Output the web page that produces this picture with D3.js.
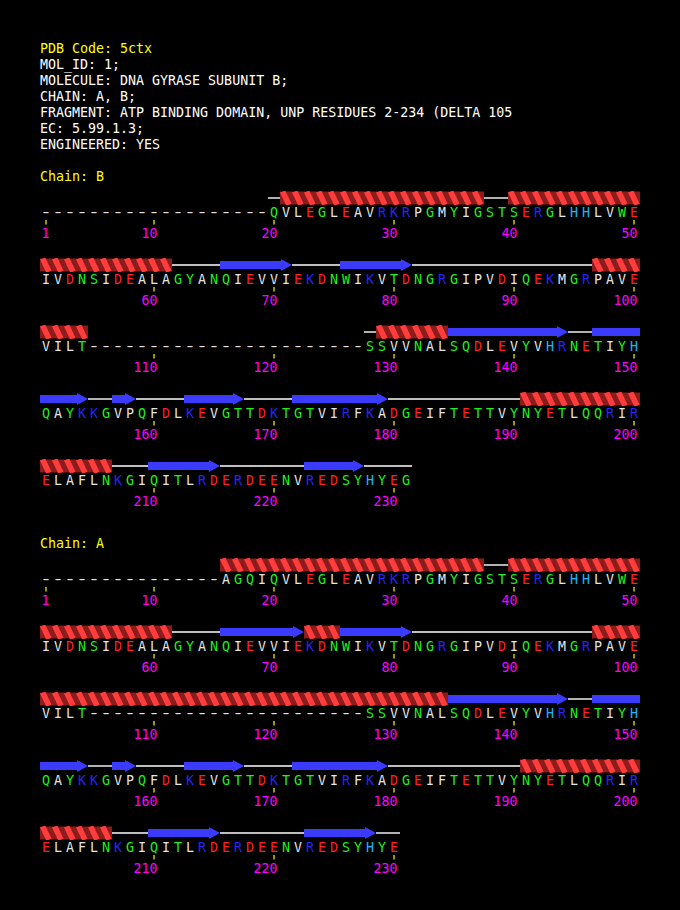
<!DOCTYPE html>
<html><head><meta charset="utf-8">
<script src="https://cdn.jsdelivr.net/npm/d3@7"></script>
<style>html,body{margin:0;padding:0;background:#000;} svg{display:block;}</style>
</head><body>
<script>
// ---------------- DATA ----------------
const headerLines = [
  "PDB Code: 5ctx",
  "MOL_ID: 1;",
  "MOLECULE: DNA GYRASE SUBUNIT B;",
  "CHAIN: A, B;",
  "FRAGMENT: ATP BINDING DOMAIN, UNP RESIDUES 2-234 (DELTA 105",
  "EC: 5.99.1.3;",
  "ENGINEERED: YES"
];

const chainOrder = ["B", "A"];

const seqRowsB = [
  "-------------------QVLEGLEAVRKRPGMYIGSTSERGLHHLVWE",
  "IVDNSIDEALAGYANQIEVVIEKDNWIKVTDNGRGIPVDIQEKMGRPAVE",
  "VILT-----------------------SSVVNALSQDLEVYVHRNETIYH",
  "QAYKKGVPQFDLKEVGTTDKTGTVIRFKADGEIFTETTVYNYETLQQRIR",
  "ELAFLNKGIQITLRDERDEENVREDSYHYEG"
];
const seqRowsA = [
  "---------------AGQIQVLEGLEAVRKRPGMYIGSTSERGLHHLVWE",
  "IVDNSIDEALAGYANQIEVVIEKDNWIKVTDNGRGIPVDIQEKMGRPAVE",
  "VILT-----------------------SSVVNALSQDLEVYVHRNETIYH",
  "QAYKKGVPQFDLKEVGTTDKTGTVIRFKADGEIFTETTVYNYETLQQRIR",
  "ELAFLNKGIQITLRDERDEENVREDSYHYE"
];

// secondary structure: [type, firstResidue, lastResidue]
const ssB = [
  ["coil",20,20],["helix",21,37],["coil",38,39],["helix",40,61],["coil",62,65],
  ["strand",66,71],["coil",72,75],["strand",76,81],["coil",82,96],["helix",97,104],
  ["coil",128,128],["helix",129,134],["strand",135,144],["coil",145,146],["strand",147,154],
  ["coil",155,156],["strand",157,158],["coil",159,162],["strand",163,167],["coil",168,171],
  ["strand",172,179],["coil",180,190],["helix",191,206],["coil",207,209],["strand",210,215],
  ["coil",216,222],["strand",223,227],["coil",228,231]
];
const ssA = [
  ["helix",16,37],["coil",38,39],["helix",40,61],["coil",62,65],["strand",66,72],
  ["helix",73,75],["strand",76,81],["coil",82,96],["helix",97,134],["strand",135,144],
  ["coil",145,146],["strand",147,154],["coil",155,156],["strand",157,158],["coil",159,162],
  ["strand",163,167],["coil",168,171],["strand",172,179],["coil",180,190],["helix",191,206],
  ["coil",207,209],["strand",210,215],["coil",216,222],["strand",223,228],["coil",229,230]
];

const acidic = ["D","E"];
const basic = ["K","R"];
const histidine = ["H"];
const polar = ["S","T","N","Q","G","Y","W","C"];
const hydrophobic = ["A","V","L","I","M","F","P","-"];

const perRow = 50;

// ---------------- DRAW ----------------
const W = 680, H = 910;
const FONT = "'DejaVu Sans Mono', 'Liberation Mono', monospace";
const FS = "13.3px";
const svg = d3.select("body").append("svg")
  .attr("width", W).attr("height", H)
  .style("background", "#000");
svg.append("rect").attr("width", W).attr("height", H).attr("fill", "#000");
const defs = svg.append("defs");

const colourOf = c => acidic.includes(c) ? "#ff2020"
  : basic.includes(c) ? "#2424ff"
  : histidine.includes(c) ? "#1eb4ff"
  : polar.includes(c) ? "#22ee22"
  : "#e4e4e4";

// header
const yHeader = d3.scaleLinear().domain([0, 1]).range([53, 69]);
svg.selectAll("text.hdr").data(headerLines).join("text")
  .attr("class", "hdr")
  .attr("x", 40).attr("y", (d, i) => yHeader(i))
  .attr("fill", (d, i) => i === 0 ? "#ffff00" : "#ffffff")
  .style("font-family", FONT).style("font-size", FS)
  .style("white-space", "pre")
  .text(d => d);

const x = d3.scaleBand().domain(d3.range(1, perRow + 1)).range([40, 640]);
const bw = x.bandwidth();
const chainTop = d3.scaleOrdinal().domain(chainOrder).range([181, 548]);
const rowBase = d3.scaleLinear().domain([0, 1]).range([36, 103]); // offset from chain label

const chains = [
  { name: "B", rows: seqRowsB, ss: ssB },
  { name: "A", rows: seqRowsA, ss: ssA }
];

let clipN = 0;
function drawHelix(g, x0, x1, cy) {
  const top = cy - 7, bot = cy + 7;
  const id = "hc" + (clipN++);
  defs.append("clipPath").attr("id", id)
    .append("rect").attr("x", x0).attr("y", top - 1).attr("width", x1 - x0).attr("height", bot - top + 2);
  const hg = g.append("g").attr("clip-path", `url(#${id})`);
  const starts = d3.range(x0 - 12, x1 + 6, bw);
  // back (dark) strands filling the gaps
  hg.selectAll("path.dk").data(starts).join("path")
    .attr("class", "dk")
    .attr("d", s => `M${s + 4},${top + 0.5} L${s + 13},${top + 0.5} L${s + 19},${bot - 0.5} L${s + 10},${bot - 0.5} Z`)
    .attr("fill", "#8c1b1b");
  // front (light) strands with rounded caps
  hg.selectAll("path.lt").data(starts).join("path")
    .attr("class", "lt")
    .attr("d", s => `M${s},${top + 1.5} Q${s + 2.5},${top - 0.5} ${s + 5.5},${top} L${s + 11.5},${bot - 1.5} Q${s + 9},${bot + 0.5} ${s + 6},${bot} Z`)
    .attr("fill", "#ff3d3d");
}

function drawStrand(g, x0, x1, cy, head) {
  const hl = head ? 11 : 0;
  const p = d3.path();
  p.moveTo(x0, cy - 4);
  p.lineTo(x1 - hl, cy - 4);
  if (head) {
    p.lineTo(x1 - hl, cy - 6);
    p.lineTo(x1, cy);
    p.lineTo(x1 - hl, cy + 6);
  }
  p.lineTo(x1 - hl, cy + 4);
  p.lineTo(x0, cy + 4);
  p.closePath();
  g.append("path").attr("d", p.toString()).attr("fill", "#3b3bff");
}

chains.forEach(ch => {
  const gy = chainTop(ch.name);
  const g = svg.append("g");
  g.append("text").attr("x", 40).attr("y", gy)
    .attr("fill", "#ffff00")
    .style("font-family", FONT).style("font-size", FS)
    .text("Chain: " + ch.name);

  const seq = ch.rows.join("");
  const nRes = seq.length;

  ch.rows.forEach((rowSeq, r) => {
    const base = gy + rowBase(r);
    const cy = base - 19;
    const rg = g.append("g");

    const rowStart = r * perRow + 1, rowEnd = r * perRow + perRow;
    const pieces = ch.ss
      .filter(s => s[2] >= rowStart && s[1] <= rowEnd)
      .map(s => ({ type: s[0], a: Math.max(s[1], rowStart), b: Math.min(s[2], rowEnd), end: s[2] }));
    const order = { coil: 0, helix: 1, strand: 2 };
    pieces.sort((p, q) => order[p.type] - order[q.type]);
    pieces.forEach(p => {
      const x0 = x(p.a - r * perRow);
      const x1 = x(p.b - r * perRow) + bw;
      if (p.type === "coil") {
        rg.append("line").attr("x1", x0).attr("x2", x1).attr("y1", cy).attr("y2", cy)
          .attr("stroke", "#ffffff").attr("stroke-width", 1.4);
      } else if (p.type === "helix") {
        drawHelix(rg, x0, x1, cy);
      } else {
        drawStrand(rg, x0, x1, cy, p.b === p.end);
      }
    });

    // residues
    const residues = rowSeq.split("").map((c, i) => ({ c, i: i + 1 }));
    const rt = rg.selectAll("text.res").data(residues).join("text")
      .attr("class", "res")
      .attr("x", d => x(d.i) + bw / 2)
      .attr("y", base)
      .attr("text-anchor", "middle")
      .attr("fill", d => colourOf(d.c))
      .style("font-family", FONT).style("font-size", FS)
      .text(d => d.c);
    rt.filter(d => d.c === "-")
      .attr("transform", d => `translate(${x(d.i) + bw / 2},0) scale(1.5,1) translate(${-(x(d.i) + bw / 2)},0)`);

    // ticks + numbers
    const nums = d3.range(rowStart, rowEnd + 1).filter(n => (n === 1 || n % 10 === 0) && n <= nRes);
    rg.selectAll("line.tick").data(nums).join("line")
      .attr("class", "tick")
      .attr("x1", n => x(n - r * perRow) + bw / 2)
      .attr("x2", n => x(n - r * perRow) + bw / 2)
      .attr("y1", base + 3).attr("y2", base + 7.5)
      .attr("stroke", "#ffff00").attr("stroke-width", 1.2);
    rg.selectAll("text.num").data(nums).join("text")
      .attr("class", "num")
      .attr("x", n => x(n - r * perRow) + bw / 2 + 3.5)
      .attr("y", base + 20.5)
      .attr("text-anchor", "end")
      .attr("fill", "#ff00ff")
      .style("font-family", FONT).style("font-size", FS)
      .text(n => n);
  });
});
</script>
</body></html>
